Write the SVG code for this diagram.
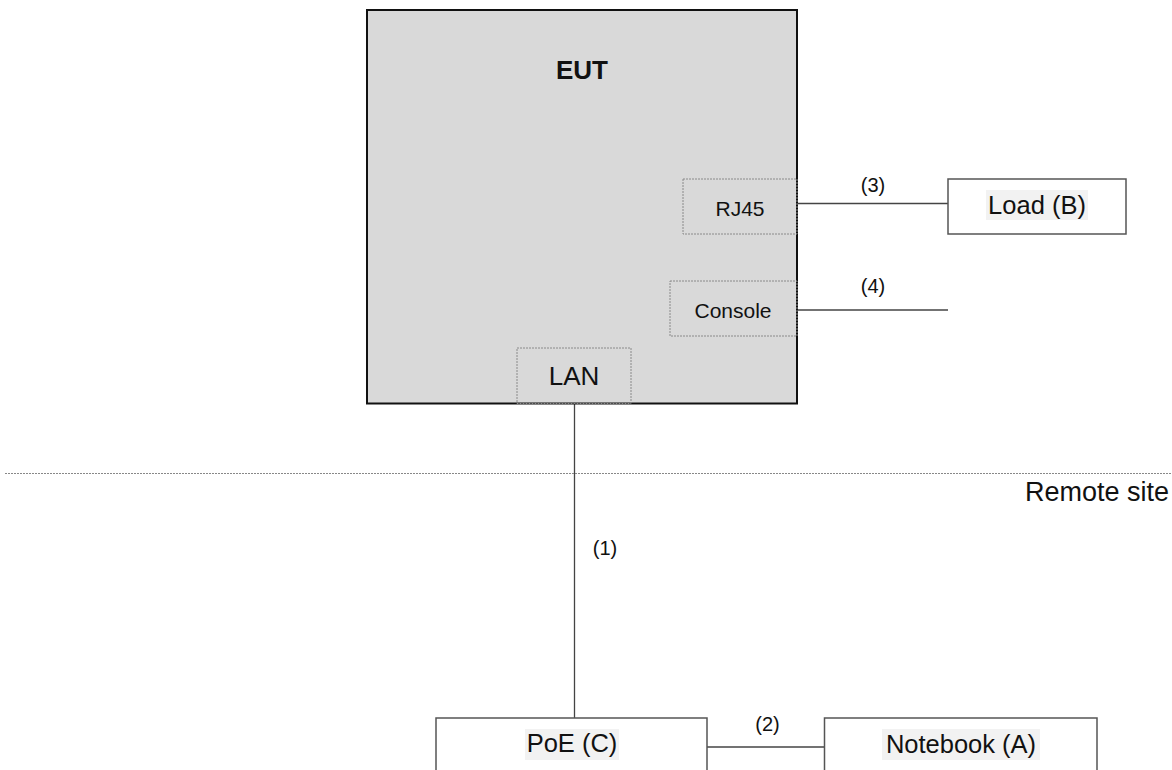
<svg xmlns="http://www.w3.org/2000/svg" width="1172" height="770" viewBox="0 0 1172 770">
<style>
text{font-family:"Liberation Sans",Arial,sans-serif;fill:#111;}
.lbl{font-size:20px;text-anchor:middle;}
.big{font-size:25.5px;text-anchor:middle;}
.port{fill:none;stroke:#8a8a8a;stroke-width:1;stroke-dasharray:2 1;}
.box{fill:#fff;stroke:#555;stroke-width:1.5;}
.hl{fill:#f2f2f2;}
.wire{stroke:#444;stroke-width:1.3;fill:none;}
</style>
<rect width="1172" height="770" fill="#fff"/>
<g id="connectors">
<line class="wire" x1="797" y1="203.5" x2="948" y2="203.5"/>
<line class="wire" x1="797" y1="310" x2="948" y2="310"/>
<line class="wire" x1="574.5" y1="404" x2="574.5" y2="718"/>
<line class="wire" x1="707" y1="747" x2="824" y2="747"/>
<text class="lbl" x="873" y="192">(3)</text>
<text class="lbl" x="873" y="293">(4)</text>
<text class="lbl" x="605" y="555">(1)</text>
<text class="lbl" x="767.5" y="731">(2)</text>
</g>
<g id="boundary">
<line x1="5" y1="473.5" x2="1172" y2="473.5" stroke="#888" stroke-width="1" stroke-dasharray="2 1"/>
<text x="1169" y="501" font-size="27" text-anchor="end">Remote site</text>
</g>
<g id="eut">
<rect x="367" y="10" width="430" height="393.5" fill="#d9d9d9" stroke="#111" stroke-width="2"/>
<text x="582" y="79" font-size="26" font-weight="bold" text-anchor="middle">EUT</text>
</g>
<g id="rj45">
<rect class="port" x="683" y="179" width="114" height="55"/>
<text x="740" y="216" font-size="21" text-anchor="middle">RJ45</text>
</g>
<g id="console">
<rect class="port" x="670" y="281" width="127" height="55"/>
<text x="733" y="318" font-size="21" text-anchor="middle">Console</text>
</g>
<g id="lan">
<rect class="port" x="517" y="348" width="114" height="55.5"/>
<text x="574" y="385" font-size="26" text-anchor="middle">LAN</text>
</g>
<g id="load">
<rect class="box" x="948" y="179" width="178" height="55"/>
<rect class="hl" x="986" y="190" width="102" height="30"/>
<text class="big" x="1037" y="214">Load (B)</text>
</g>
<g id="poe">
<rect class="box" x="436" y="718" width="271" height="60"/>
<rect class="hl" x="525" y="729" width="94" height="31"/>
<text class="big" x="572" y="752">PoE (C)</text>
</g>
<g id="notebook">
<rect class="box" x="824.5" y="718" width="272.5" height="60"/>
<rect class="hl" x="882" y="729" width="158" height="31"/>
<text class="big" x="961" y="753">Notebook (A)</text>
</g>
</svg>
